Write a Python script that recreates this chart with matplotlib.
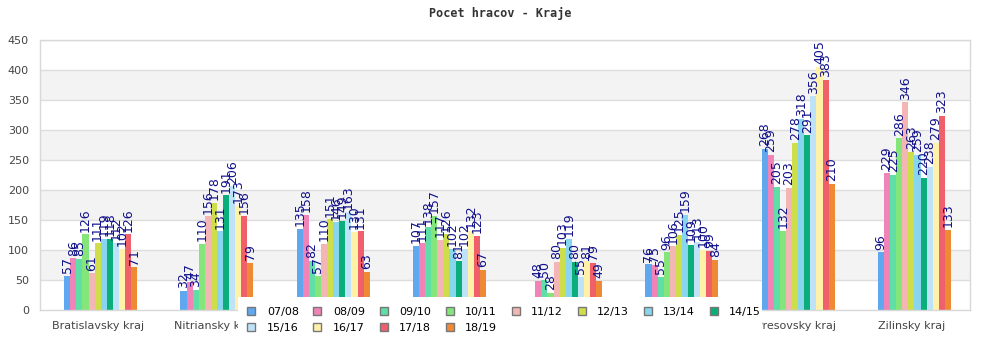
import matplotlib
matplotlib.use("Agg")
import matplotlib.pyplot as plt
from matplotlib.lines import Line2D
from matplotlib.patches import Rectangle
import numpy as np

# Regions (x categories)
regions = ["Bratislavsky kraj", "Nitriansky kraj", "Trenciansky kraj", "Trnavsky kraj",
           "Banskobystricky kraj", "Kosicky kraj", "Presovsky kraj", "Zilinsky kraj"]

# Seasons (series)
seasons = ["07/08", "08/09", "09/10", "10/11", "11/12", "12/13",
           "13/14", "14/15", "15/16", "16/17", "17/18", "18/19"]

# Player counts per season, one value per region
s0708 = [57, 32, 135, 107, 5, 76, 268, 96]
s0809 = [86, 47, 158, 111, 48, 75, 259, 229]
s0910 = [85, 34, 82, 138, 50, 55, 205, 225]
s1011 = [126, 110, 57, 157, 28, 96, 132, 286]
s1112 = [61, 156, 110, 117, 80, 106, 203, 346]
s1213 = [111, 178, 151, 126, 103, 125, 278, 263]
s1314 = [119, 131, 146, 102, 119, 159, 318, 259]
s1415 = [118, 191, 149, 81, 80, 109, 291, 220]
s1516 = [112, 206, 163, 102, 55, 113, 356, 238]
s1617 = [102, 173, 130, 132, 81, 100, 405, 279]
s1718 = [126, 156, 131, 123, 79, 99, 383, 323]
s1819 = [71, 79, 63, 67, 49, 84, 210, 133]

series = [s0708, s0809, s0910, s1011, s1112, s1213,
          s1314, s1415, s1516, s1617, s1718, s1819]

colors = ["#5fa8f0", "#f083b8", "#5fdea6", "#84e67a", "#f4b6b4", "#cede4a",
          "#88d6ee", "#0bae7a", "#bee3f8", "#fff2a8", "#f0606a", "#ee8a36"]

W, H = 1000, 350
fig = plt.figure(figsize=(W / 100, H / 100), dpi=100)
ax = fig.add_axes([40 / W, 1 - 310 / H, 930 / W, 270 / H])

n = len(series)
bw = 0.0523
shift = 0.022
x = np.arange(len(regions))

# alternating background bands
ax.set_ylim(0, 450)
ax.set_xlim(-0.5, len(regions) - 0.5)
for lo in range(50, 450, 100):
    ax.axhspan(lo, lo + 50, color="#f3f3f3", zorder=0, lw=0)
for yv in range(50, 451, 50):
    ax.axhline(yv, color="#dddddd", lw=1, zorder=0.5)

for i, (vals, col) in enumerate(zip(series, colors)):
    xs = x + shift + (i - (n - 1) / 2) * bw
    ax.bar(xs, vals, width=bw, color=col, lw=0, zorder=2)
    for xi, v in zip(xs, vals):
        ax.annotate(str(v), (xi, v), xytext=(0, 2), textcoords="offset points",
                    rotation=90, ha="center", va="bottom", fontsize=9,
                    color="#10108a", zorder=3, annotation_clip=False)

ax.set_xticks(x)
ax.set_xticklabels(regions, fontsize=8, color="#444444")
ax.set_yticks(range(0, 451, 50))
ax.tick_params(axis="y", labelsize=8, labelcolor="#444444", length=0, pad=8)
ax.tick_params(axis="x", length=0, pad=8)
for sp in ax.spines.values():
    sp.set_color("#d8d8d8")
    sp.set_linewidth(1)

fig.text(0.5, 1 - 13 / H, "Pocet hracov - Kraje", ha="center", va="center",
         fontsize=8.5, fontweight="bold", family="DejaVu Sans Mono", color="#333333")

# white legend panel laid over the lower part of the plot
fig.add_artist(Rectangle((238 / W, 0), (762 - 238) / W, 1 - 297 / H,
                         transform=fig.transFigure, facecolor="white",
                         edgecolor="none", zorder=2))

# legend: rows of 8, filled row by row
handles = [Line2D([], [], ls="none", marker="s", markersize=6, markerfacecolor=c,
                  markeredgecolor="#777777", markeredgewidth=1) for c in colors]
order = [0, 8, 1, 9, 2, 10, 3, 11, 4, 5, 6, 7]
leg = fig.legend([handles[k] for k in order], [seasons[k] for k in order],
                 ncol=8, loc="upper left", bbox_to_anchor=(243.5 / W, 1 - 304 / H),
                 frameon=False, fontsize=8, handlelength=0.8, handletextpad=1.0,
                 columnspacing=1.27, borderpad=0.3, borderaxespad=0, labelspacing=0.5)
leg.set_zorder(5)

fig.savefig("out.png", dpi=100)
